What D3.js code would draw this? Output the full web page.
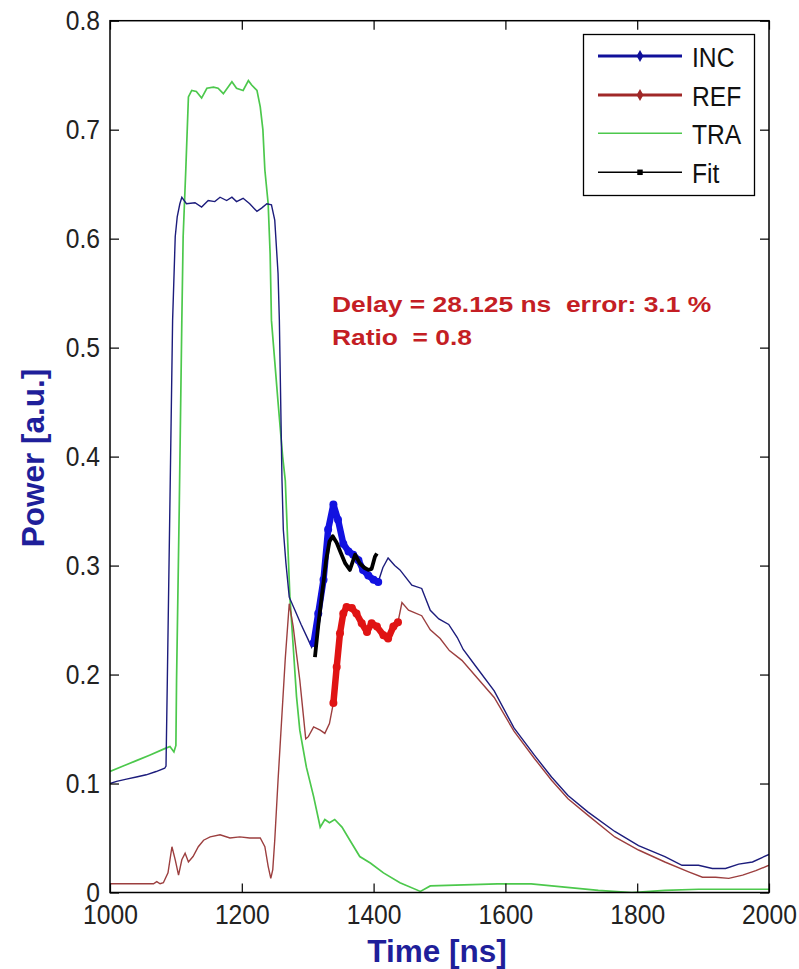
<!DOCTYPE html>
<html><head><meta charset="utf-8">
<script src="https://cdn.jsdelivr.net/npm/d3@7"></script>
<style>body{margin:0;background:#fff}svg{display:block}</style>
</head><body>
<svg id="chart" width="799" height="969"></svg>
<script>
// ---------- data ----------
const incTime = [1000,1010,1025,1040,1055,1070,1083,1085,1087,1091,1095,1099,1102,1106,1109,1116,1129,1139,1149,1159,1167,1177,1185,1192,1202,1212,1223,1230,1238,1245,1250,1255,1257,1261,1263,1267,1272,1280,1290,1300,1306,
  1309,1316,1324,1331,1339,1346,1354,1362,1369,1377,1384,1392,1400,1407,
  1414,1422,1432,1440,1458,1473,1486,1499,1514,1527,1536,1557,1583,1613,1644,1670,1695,1725,1766,1802,1842,1868,1893,1914,1934,1954,1975,2000];
const incValue = [0.100,0.102,0.104,0.106,0.108,0.111,0.114,0.116,0.195,0.36,0.525,0.602,0.620,0.632,0.638,0.632,0.633,0.629,0.635,0.634,0.638,0.635,0.638,0.634,0.637,0.632,0.625,0.628,0.632,0.631,0.617,0.568,0.525,0.378,0.333,0.302,0.271,0.260,0.246,0.233,0.225,
  0.229,0.256,0.287,0.333,0.356,0.342,0.320,0.313,0.310,0.305,0.296,0.291,0.287,0.285,
  0.298,0.307,0.300,0.296,0.282,0.279,0.259,0.251,0.246,0.234,0.223,0.206,0.185,0.151,0.126,0.106,0.089,0.074,0.056,0.043,0.033,0.025,0.025,0.022,0.022,0.026,0.028,0.035];

const refTime = [1000,1030,1066,1071,1076,1081,1088,1094,1099,1104,1109,1114,1119,1126,1134,1142,1152,1167,1182,1197,1212,1228,1235,1240,1244,1247,1250,1255,1261,1266,1272,1278,1283,1288,1293,1297,1301,1309,1319,1326,1333,
  1339,1344,1349,1354,1359,1367,1374,1382,1390,1397,1405,1415,1422,1430,1437,
  1443,1453,1461,1473,1486,1501,1515,1534,1557,1583,1613,1644,1670,1695,1725,1766,1802,1842,1878,1899,1919,1939,1960,1980,2000];
const refValue = [0.008,0.008,0.008,0.010,0.008,0.009,0.018,0.042,0.030,0.016,0.030,0.036,0.028,0.033,0.042,0.048,0.051,0.053,0.050,0.051,0.050,0.050,0.042,0.024,0.013,0.021,0.048,0.103,0.164,0.215,0.265,0.244,0.219,0.195,0.165,0.141,0.143,0.152,0.149,0.146,0.155,
  0.174,0.207,0.238,0.256,0.262,0.261,0.256,0.247,0.239,0.247,0.244,0.236,0.233,0.244,0.248,
  0.266,0.259,0.257,0.254,0.241,0.233,0.222,0.213,0.197,0.179,0.148,0.123,0.103,0.086,0.071,0.051,0.039,0.028,0.019,0.014,0.014,0.013,0.016,0.020,0.025];

const traTime = [1000,1020,1040,1060,1083,1091,1097,1100,1101,1105,1109,1111,1115,1119,1124,1131,1139,1147,1157,1164,1172,1185,1192,1202,1210,1215,1223,1228,1232,1235,1240,1243,1245,1255,1262,1266,1273,1278,1283,1288,1298,1309,1319,1326,1333,1341,1352,1364,1379,1395,1415,1440,1471,1486,1537,1588,1639,1690,1741,1792,1842,1893,1944,2000];
const traValue = [0.111,0.116,0.121,0.126,0.132,0.134,0.129,0.135,0.195,0.35,0.525,0.602,0.663,0.730,0.736,0.735,0.729,0.738,0.739,0.738,0.733,0.744,0.738,0.736,0.745,0.741,0.736,0.721,0.700,0.663,0.632,0.586,0.525,0.450,0.400,0.378,0.271,0.226,0.180,0.149,0.115,0.088,0.060,0.067,0.064,0.067,0.060,0.048,0.033,0.027,0.018,0.009,0.001,0.006,0.007,0.008,0.008,0.005,0.002,0.000,0.002,0.003,0.003,0.003];

const fitTime  = [1311,1316,1322,1328,1333,1338,1344,1350,1357,1364,1372,1379,1386,1392,1397,1402,1405];
const fitValue = [0.216,0.245,0.275,0.305,0.322,0.327,0.321,0.312,0.302,0.296,0.310,0.302,0.298,0.296,0.297,0.308,0.311];

const incWindow = [1309, 1407];   // highlighted (thick) part of INC
const refWindow = [1339, 1437];   // highlighted (thick) part of REF

const xTicks = [1000,1200,1400,1600,1800,2000];
const yTicks = [0,0.1,0.2,0.3,0.4,0.5,0.6,0.7,0.8];
const legendLabels = ["INC","REF","TRA","Fit"];
const annotationLines = ["Delay = 28.125 ns  error: 3.1 %", "Ratio  = 0.8"];
const xLabel = "Time [ns]";
const yLabel = "Power [a.u.]";

// ---------- drawing ----------
const svg = d3.select("#chart");
const L = 110, R = 769, T = 20.7, B = 892.5;
const x = d3.scaleLinear().domain([1000,2000]).range([L,R]);
const y = d3.scaleLinear().domain([0,0.8]).range([B,T]);
const FONT = "'Liberation Sans', Arial, Helvetica, sans-serif";

svg.append("defs").append("clipPath").attr("id","clip")
  .append("rect").attr("x",L).attr("y",T).attr("width",R-L).attr("height",B-T);

const zip = (ts, vs) => ts.map((t,i)=>({t, v: vs[i]}));
const line = d3.line().x(d=>x(d.t)).y(d=>y(d.v));

const plot = svg.append("g").attr("clip-path","url(#clip)");

const inc = zip(incTime, incValue);
const ref = zip(refTime, refValue);
const tra = zip(traTime, traValue);
const fit = zip(fitTime, fitValue);

plot.append("path").datum(tra).attr("d",line).attr("fill","none").attr("stroke","#4cc84c").attr("stroke-width",1.7);
plot.append("path").datum(ref).attr("d",line).attr("fill","none").attr("stroke","#9c3f3f").attr("stroke-width",1.4);
plot.append("path").datum(inc).attr("d",line).attr("fill","none").attr("stroke","#1c1c7c").attr("stroke-width",1.4);

function thick(data, win, color) {
  const seg = data.filter(d => d.t >= win[0] && d.t <= win[1]);
  plot.append("path").datum(seg).attr("d",line).attr("fill","none")
    .attr("stroke",color).attr("stroke-width",6.5).attr("stroke-linejoin","round");
  plot.selectAll(null).data(seg).enter().append("circle")
    .attr("cx",d=>x(d.t)).attr("cy",d=>y(d.v)).attr("r",4).attr("fill",color);
}
thick(inc, incWindow, "#1212e0");
thick(ref, refWindow, "#e01414");
plot.append("path").datum(fit).attr("d",line).attr("fill","none")
  .attr("stroke","#000").attr("stroke-width",3.8).attr("stroke-linejoin","round");

// axes
const SX = 0.88;
const gx = svg.append("g").attr("transform",`translate(0,${B})`)
  .call(d3.axisBottom(x).tickValues(xTicks).tickSize(-9).tickFormat(d3.format("d")));
gx.select(".domain").remove();
gx.selectAll("line").attr("stroke","#000").attr("stroke-width",1.2);
gx.selectAll("text").attr("y",32).attr("dy",0).attr("transform",`scale(${SX},1)`)
  .attr("font-family",FONT).attr("font-size",28).attr("fill","#222");

const gy = svg.append("g").attr("transform",`translate(${L},0)`)
  .call(d3.axisLeft(y).tickValues(yTicks).tickSize(-9).tickFormat(d=>d===0?"0":d3.format(".1f")(d)));
gy.select(".domain").remove();
gy.selectAll("line").attr("stroke","#000").attr("stroke-width",1.2);
gy.selectAll("text").attr("x",-10/SX).attr("dy","0.33em").attr("transform",`scale(${SX},1)`)
  .attr("font-family",FONT).attr("font-size",28).attr("fill","#222");

const gt = svg.append("g").attr("transform",`translate(0,${T})`)
  .call(d3.axisTop(x).tickValues(xTicks).tickSize(-9).tickFormat(""));
gt.select(".domain").remove();
gt.selectAll("line").attr("stroke","#000").attr("stroke-width",1.2);
const gr = svg.append("g").attr("transform",`translate(${R},0)`)
  .call(d3.axisRight(y).tickValues(yTicks).tickSize(-9).tickFormat(""));
gr.select(".domain").remove();
gr.selectAll("line").attr("stroke","#000").attr("stroke-width",1.2);

svg.append("rect").attr("x",L).attr("y",T).attr("width",R-L).attr("height",B-T)
  .attr("fill","none").attr("stroke","#000").attr("stroke-width",1.5);

// axis labels
svg.append("text").attr("x",437).attr("y",962).attr("text-anchor","middle")
  .attr("font-family",FONT).attr("font-weight","bold").attr("font-size",31.5)
  .attr("fill","#1f1f9a").text(xLabel);
svg.append("text").attr("transform","translate(43.5,458) rotate(-90)").attr("text-anchor","middle")
  .attr("font-family",FONT).attr("font-weight","bold").attr("font-size",31.5)
  .attr("fill","#1f1f9a").text(yLabel);

// annotation
annotationLines.forEach((s,i)=>{
  svg.append("g").attr("transform",`translate(332,${311.5 + i*33.5})`)
    .append("text").attr("transform","scale(1,0.82)")
    .attr("font-family",FONT).attr("font-weight","bold").attr("font-size",26.4)
    .attr("fill","#c41e24").style("white-space","pre").text(s);
});

// legend
const leg = svg.append("g");
leg.append("rect").attr("x",583.5).attr("y",34.5).attr("width",171).attr("height",161)
  .attr("fill","#fff").attr("stroke","#000").attr("stroke-width",1.3);
const legY = [56, 95, 133.3, 172.3];
const legStyle = [
  {color:"#10109a", w:3.2, marker:"diamond"},
  {color:"#a02828", w:3.2, marker:"diamond"},
  {color:"#4cc84c", w:1.6, marker:null},
  {color:"#000000", w:1.5, marker:"square"}
];
legendLabels.forEach((lab,i)=>{
  const st = legStyle[i], yy = legY[i];
  leg.append("line").attr("x1",598).attr("x2",682).attr("y1",yy).attr("y2",yy)
    .attr("stroke",st.color).attr("stroke-width",st.w);
  if (st.marker) {
    leg.append("path").attr("transform",`translate(640,${yy})`)
      .attr("d", d3.symbol().type(st.marker==="square"?d3.symbolSquare:d3.symbolDiamond).size(st.marker==="square"?30:40)())
      .attr("fill",st.color);
  }
  leg.append("g").attr("transform",`translate(692,${yy+11})`)
    .append("text").attr("transform",`scale(${SX},1)`)
    .attr("font-family",FONT).attr("font-size",28).attr("fill","#111").text(lab);
});
</script>
</body></html>
